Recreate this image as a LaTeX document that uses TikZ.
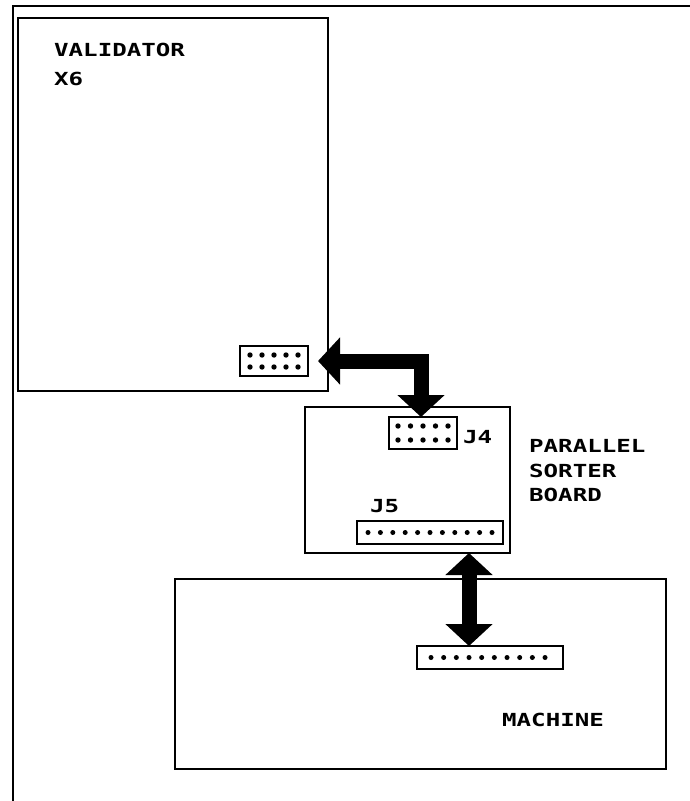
\documentclass[tikz,border=0pt]{standalone}
\usepackage{fontspec}
\newfontfamily\labelfont[FakeStretch=1.34]{DejaVu Sans Mono}
\usetikzlibrary{arrows.meta}
\begin{document}
\begin{tikzpicture}[x=1pt,y=-1pt,
  box/.style={draw, line width=1.5pt, inner sep=0pt, outer sep=0pt, anchor=north west},
  lbl/.style={font=\labelfont\bfseries\fontsize{18}{20}\selectfont, inner sep=0pt, anchor=west},
  bigarrow/.style={line width=15pt, line join=miter, {Triangle[length=22pt,width=46pt]}-{Triangle[length=22pt,width=46pt]}}]
\useasboundingbox (0,0) rectangle (690,801);
% outer frame
\draw[line width=2pt] (13,801) -- (13,6) -- (690,6);
% boxes
\node[box, minimum width=310pt, minimum height=373pt] (validator) at (18,18) {};
\node[box, minimum width=68pt, minimum height=30pt] (vconn) at (240,346) {};
\node[box, minimum width=205pt, minimum height=146pt] (board) at (305,407) {};
\node[box, minimum width=68pt, minimum height=32pt] (j4) at (389,417) {};
\node[box, minimum width=146pt, minimum height=23pt] (j5) at (357,521) {};
\node[box, minimum width=491pt, minimum height=190pt] (machine) at (175,579) {};
\node[box, minimum width=146pt, minimum height=23pt] (mconn) at (417,646) {};
% pins
\foreach \i in {0,...,4} {
  \fill (250+12*\i,355) circle (2.7pt);
  \fill (250+12*\i,367) circle (2.7pt);
  \fill (398+12.5*\i,426) circle (2.7pt);
  \fill (398+12.5*\i,440) circle (2.7pt);
}
\foreach \i in {0,...,10} { \fill (368+12.4*\i,532.5) circle (2.5pt); }
\foreach \i in {0,...,9} { \fill (431+12.67*\i,657.5) circle (2.5pt); }
% labels
\node[lbl] (tval) at (54,49.5) {VALIDATOR};
\node[lbl] (tx6) at (54,79) {X6};
\node[lbl] (tpar) at (529,446) {PARALLEL};
\node[lbl] (tsor) at (529,470.5) {SORTER};
\node[lbl] (tboa) at (529,494.5) {BOARD};
\node[lbl] (tj4) at (463,437) {J4};
\node[lbl] (tj5) at (370,506) {J5};
\node[lbl] (tmac) at (502,720) {MACHINE};
% arrows
\coordinate (a1s) at ([xshift=10pt]vconn.east);
\coordinate (a1e) at (421,417);
\draw[bigarrow] (a1s) -| (a1e);
\coordinate (a2s) at (board.south -| 469,0);
\coordinate (a2e) at (mconn.north -| 469,0);
\draw[bigarrow] (a2s) -- (a2e);
\end{tikzpicture}
\end{document}
